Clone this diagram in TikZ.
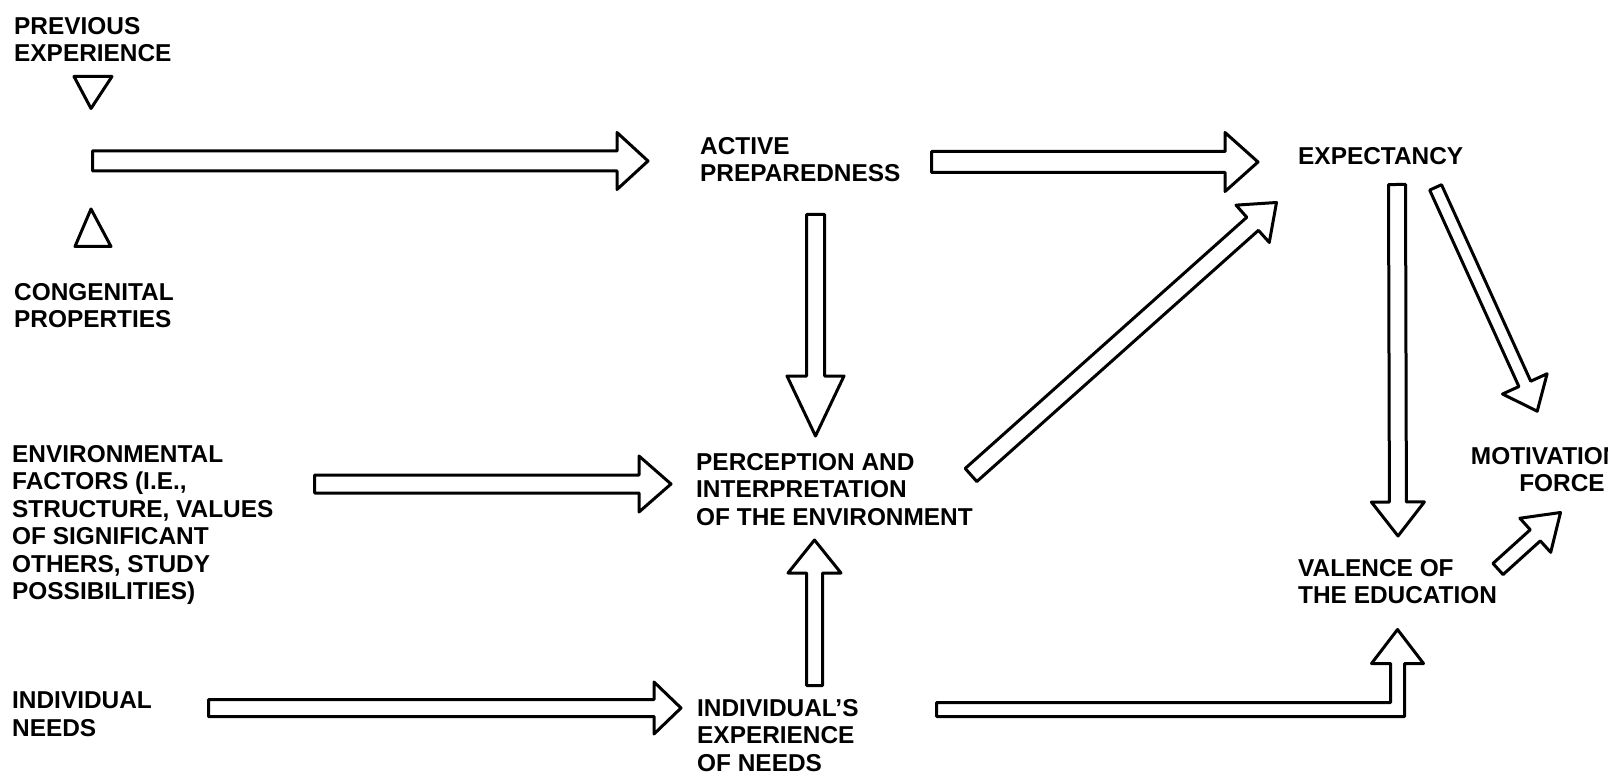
\documentclass[tikz,border=0pt]{standalone}
\usepackage{fontspec}
\setmainfont{Liberation Sans}
\usetikzlibrary{calc}
\tikzset{
  fat/.style={draw=black, line width=3pt, fill=white, line join=round},
  lbl/.style={anchor=north west, inner sep=0pt, align=left, font=\bfseries\fontsize{24.4}{27.5}\selectfont},
}
% #1 tail coordinate, #2 tip coordinate, #3 half shaft width, #4 half head width, #5 head length
\newcommand{\blockarrow}[5]{%
  \coordinate (#1c) at ($(#2)!#5pt!(#1)$);
  \draw[fat] ($(#1)!#3pt!90:(#2)$) -- ($(#1c)!#3pt!90:(#2)$) -- ($(#1c)!#4pt!90:(#2)$) -- (#2)
    -- ($(#1c)!#4pt!-90:(#2)$) -- ($(#1c)!#3pt!-90:(#2)$) -- ($(#1)!#3pt!-90:(#2)$) -- cycle;
}
\begin{document}
\begin{tikzpicture}[x=1pt,y=-1pt]
\useasboundingbox (0,0) rectangle (1608,783);
\clip (0,0) rectangle (1608,783);

% labels
\node[lbl] (prev) at (14,17) {PREVIOUS\\EXPERIENCE};
\node[lbl] (cong) at (14,283) {CONGENITAL\\PROPERTIES};
\node[lbl] (envf) at (12,445) {ENVIRONMENTAL\\FACTORS (I.E.,\\STRUCTURE, VALUES\\OF SIGNIFICANT\\OTHERS, STUDY\\POSSIBILITIES)};
\node[lbl] (need) at (12,692) {INDIVIDUAL\\NEEDS};
\node[lbl] (actp) at (700,137) {ACTIVE\\PREPAREDNESS};
\node[lbl] (perc) at (696,453) {PERCEPTION AND\\INTERPRETATION\\OF THE ENVIRONMENT};
\node[lbl] (iexp) at (697,699) {INDIVIDUAL'S\\EXPERIENCE\\OF NEEDS};
\node[lbl] (expc) at (1298,147) {EXPECTANCY};
\node[lbl] (vale) at (1298,559) {VALENCE OF\\THE EDUCATION};
\node[lbl, anchor=north, align=center] (moti) at (1562,447) {MOTIVATIONAL\\FORCE};

% triangles
\draw[fat] (74,76.5) -- (112,76.5) -- (91,108.5) -- cycle;
\draw[fat] (91,209) -- (111,246.5) -- (75,246.5) -- cycle;

% arrow end points
\coordinate (a1s) at (92.5,161);   \coordinate (a1e) at (648,161);
\coordinate (a2s) at (931.5,162);  \coordinate (a2e) at (1258,162);
\coordinate (a3s) at (314.5,484);  \coordinate (a3e) at (671,484);
\coordinate (a4s) at (208.5,708);  \coordinate (a4e) at (681,708);
\coordinate (a5s) at (815.5,214.5);\coordinate (a5e) at (815.5,436);
\coordinate (a6s) at (814.5,685.5);\coordinate (a6e) at (814.5,540);
\coordinate (a7s) at (1397,184.5); \coordinate (a7e) at (1398,536);
\coordinate (a9s) at (971,475);    \coordinate (a9e) at (1276.5,202.5);
\coordinate (a10s) at (1435.6,187.4); \coordinate (a10e) at (1537.2,411.2);
\coordinate (a11s) at (1498,569);  \coordinate (a11e) at (1560.5,512.5);
\coordinate (a8s) at (936.5,709.5);\coordinate (a8e) at (1397.5,629.5);

\blockarrow{a1s}{a1e}{10}{28.5}{31}
\blockarrow{a2s}{a2e}{10.5}{29.5}{33}
\blockarrow{a3s}{a3e}{9}{28}{32}
\blockarrow{a4s}{a4e}{8.5}{26}{27}
\blockarrow{a5s}{a5e}{9}{28.5}{60}
\blockarrow{a6s}{a6e}{8}{26.5}{33}
\blockarrow{a7s}{a7e}{8.5}{26.5}{34}
\blockarrow{a9s}{a9e}{8.75}{25}{32}
\blockarrow{a10s}{a10e}{6.5}{24.5}{30}
\blockarrow{a11s}{a11e}{7.5}{23}{34}

% elbow arrow
\draw[fat] ($(a8s)+(0,-7)$) -| ($(a8e)+(-7,34)$) -- ($(a8e)+(-26,34)$) -- (a8e)
  -- ($(a8e)+(26,34)$) -- ($(a8e)+(7,34)$) |- ($(a8s)+(0,7)$) -- cycle;
\end{tikzpicture}
\end{document}
